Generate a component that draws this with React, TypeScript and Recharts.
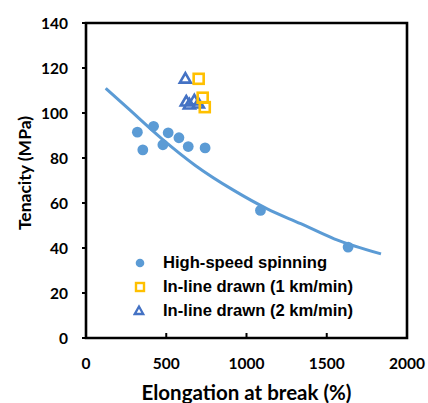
import React from "react";
import {
  ComposedChart,
  Scatter,
  Line,
  XAxis,
  YAxis,
  ReferenceArea,
  Legend,
  Customized,
} from "recharts";

// Elongation at break (%) and tenacity (MPa) per spinning route
const spinElongation = [320, 354, 421, 479, 512, 579, 637, 742, 1087, 1633];
const spinTenacity = [91.5, 83.6, 94.1, 85.9, 91.2, 89.0, 85.1, 84.5, 56.7, 40.4];

const drawn1Elongation = [702, 727, 740];
const drawn1Tenacity = [115.2, 106.8, 102.6];

const drawn2Elongation = [619, 625, 644, 675, 700];
const drawn2Tenacity = [115.3, 105.1, 103.8, 105.6, 104.2];

// Trend line through the high-speed spinning data
const trendElongation = [123, 264, 473, 681, 921, 1129, 1338, 1546, 1838];
const trendTenacity = [111.0, 101.9, 88.5, 76.7, 65.6, 57.4, 50.8, 44.1, 37.4];

const xTicks = [0, 500, 1000, 1500, 2000];
const yTicks = [0, 20, 40, 60, 80, 100, 120, 140];

const seriesNames = [
  "High-speed spinning",
  "In-line drawn (1 km/min)",
  "In-line drawn (2 km/min)",
];

const BLUE_LIGHT = "#5B9BD5";
const YELLOW = "#FFC000";
const BLUE_DARK = "#4472C4";

const zip = (xs: number[], ys: number[]) => xs.map((x, i) => ({ x, y: ys[i] }));

const spinData = zip(spinElongation, spinTenacity);
const drawn1Data = zip(drawn1Elongation, drawn1Tenacity);
const drawn2Data = zip(drawn2Elongation, drawn2Tenacity);
const trendData = zip(trendElongation, trendTenacity);

const TICK_FONT = "Lato, 'Open Sans', sans-serif";
const LEGEND_FONT = "'Liberation Sans', Arial, sans-serif";
const X_TICK_GAP = 20;

const CircleMark = (p: any) => <circle cx={p.cx} cy={p.cy} r={5.4} fill={BLUE_LIGHT} />;

const SquareMark = (p: any) => (
  <rect
    x={p.cx - 5}
    y={p.cy - 5}
    width={10}
    height={10}
    fill="none"
    stroke={YELLOW}
    strokeWidth={2.6}
  />
);

const TriangleMark = (p: any) => (
  <polygon
    points={`${p.cx},${p.cy - 5.5} ${p.cx - 5.5},${p.cy + 4} ${p.cx + 5.5},${p.cy + 4}`}
    fill="none"
    stroke={BLUE_DARK}
    strokeWidth={2.6}
    strokeLinejoin="miter"
  />
);

// X tick: inward tick mark on the axis plus the label below it
const XTick = (p: any) => {
  const axisY = p.y - X_TICK_GAP;
  return (
    <g>
      <line x1={p.x} x2={p.x} y1={axisY} y2={axisY - 5} stroke="#000" strokeWidth={2} />
      <text
        x={p.x}
        y={p.y}
        dy="0.71em"
        textAnchor="middle"
        fill="#000"
        fontSize={15.5}
        fontFamily={TICK_FONT}
        fontWeight={700}
      >
        {p.payload.value}
      </text>
    </g>
  );
};

const legendIcons = [
  <circle key="c" cx={7} cy={7} r={4.3} fill={BLUE_LIGHT} />,
  <rect key="s" x={3} y={3} width={8} height={8} fill="none" stroke={YELLOW} strokeWidth={2.4} />,
  <polygon key="t" points="6,2.5 1.8,10 10.2,10" fill="none" stroke={BLUE_DARK} strokeWidth={2.3} />,
];

const LegendBox = () => (
  <div style={{ display: "flex", flexDirection: "column" }}>
    {seriesNames.map((name, i) => (
      <div key={name} style={{ display: "flex", alignItems: "center", height: 24 }}>
        <svg width={14} height={14} style={{ display: "block" }}>
          {legendIcons[i]}
        </svg>
        <span
          style={{
            marginLeft: 16,
            fontFamily: LEGEND_FONT,
            fontWeight: 700,
            fontSize: 16.6,
            color: "#000",
            whiteSpace: "nowrap",
          }}
        >
          {name}
        </span>
      </div>
    ))}
  </div>
);

const AxisTitles = () => (
  <g fontFamily={TICK_FONT} fontWeight={700} fill="#000">
    <text
      x={24}
      y={173}
      fontSize={17.5}
      textAnchor="middle"
      dominantBaseline="central"
      transform="rotate(-90, 24, 173)"
    >
      Tenacity (MPa)
    </text>
    <text x={246.5} y={392} fontSize={20.5} textAnchor="middle" dominantBaseline="central">
      Elongation at break (%)
    </text>
  </g>
);

export default function App() {
  return (
    <div style={{ position: "absolute", left: 0, top: 0 }}>
      <ComposedChart
        width={428}
        height={403}
        margin={{ top: 23, right: 21, bottom: 0, left: 0 }}
      >
        <XAxis
          dataKey="x"
          type="number"
          domain={[0, 2000]}
          ticks={xTicks}
          height={65}
          axisLine={false}
          tickLine={false}
          tickSize={0}
          tickMargin={X_TICK_GAP}
          tick={XTick}
          allowDataOverflow
        />
        <YAxis
          dataKey="y"
          type="number"
          domain={[0, 140]}
          ticks={yTicks}
          width={86}
          axisLine={false}
          tickSize={4}
          tickMargin={14}
          tickLine={{ stroke: "#000", strokeWidth: 2 }}
          tick={{ fill: "#000", fontSize: 15.5, fontFamily: TICK_FONT, fontWeight: 700 }}
          allowDataOverflow
        />
        <ReferenceArea
          x1={0}
          x2={2000}
          y1={0}
          y2={140}
          fill="none"
          stroke="#000"
          strokeWidth={2.6}
          ifOverflow="visible"
        />
        <Scatter
          name={seriesNames[0]}
          data={spinData}
          fill={BLUE_LIGHT}
          shape={CircleMark}
          isAnimationActive={false}
        />
        <Scatter
          name={seriesNames[2]}
          data={drawn2Data}
          fill={BLUE_DARK}
          shape={TriangleMark}
          isAnimationActive={false}
        />
        <Scatter
          name={seriesNames[1]}
          data={drawn1Data}
          fill={YELLOW}
          shape={SquareMark}
          isAnimationActive={false}
        />
        <Line
          data={trendData}
          dataKey="y"
          type="monotone"
          stroke={BLUE_LIGHT}
          strokeWidth={3}
          dot={false}
          activeDot={false}
          legendType="none"
          isAnimationActive={false}
        />
        <Legend
          layout="vertical"
          align="center"
          verticalAlign="middle"
          content={<LegendBox />}
          wrapperStyle={{ left: 133, top: 251, width: "auto", height: "auto" }}
        />
        <Customized component={AxisTitles} />
      </ComposedChart>
    </div>
  );
}
